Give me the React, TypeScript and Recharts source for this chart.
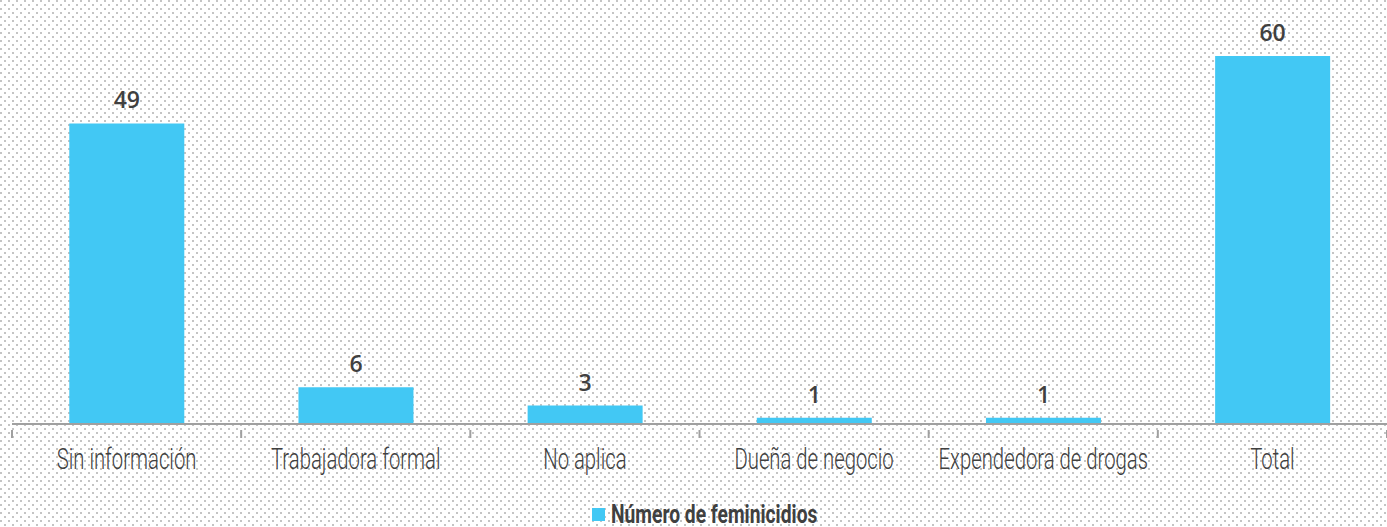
import { Bar, BarChart, LabelList, Legend, XAxis, YAxis } from "recharts";

const categories = [
  "Sin información",
  "Trabajadora formal",
  "No aplica",
  "Dueña de negocio",
  "Expendedora de drogas",
  "Total",
];
const feminicidios = [49, 6, 3, 1, 1, 60];
const seriesName = "Número de feminicidios";

const data = categories.map((label, i) => ({ label, value: feminicidios[i] }));

const BLUE = "#42c8f4";
const TEXT = "#404040";
const AXIS = "#a0a0a0";

const dots =
  "url(\"data:image/svg+xml;utf8,<svg xmlns='http://www.w3.org/2000/svg' width='8' height='8'><rect x='0' y='0' width='2' height='2' fill='%23c4c4c4'/><rect x='4' y='4' width='2' height='2' fill='%23c4c4c4'/></svg>\")";

const CategoryTick = (props: any) => {
  const { x, y, payload, index } = props;
  const half = payload?.offset ?? 114.6;
  const last = index === categories.length - 1;
  return (
    <g>
      <line x1={x - half} x2={x - half} y1={y} y2={y + 8} stroke={AXIS} strokeWidth={2} />
      {last && <line x1={x + half} x2={x + half} y1={y} y2={y + 8} stroke={AXIS} strokeWidth={2} />}
      <text
        x={0}
        y={0}
        transform={`translate(${x},${y + 39}) scale(0.7,1)`}
        textAnchor="middle"
        fill={TEXT}
        fontSize={29}
        fontFamily="Roboto, sans-serif"
        fontWeight={300}
      >
        {payload.value}
      </text>
    </g>
  );
};

const LegendContent = () => (
  <div
    style={{
      display: "flex",
      justifyContent: "center",
      alignItems: "center",
      height: 30,
      marginTop: 5,
      paddingLeft: 12,
    }}
  >
    <span style={{ width: 13, height: 13, background: BLUE, marginRight: 6, display: "inline-block" }} />
    <span
      style={{
        display: "inline-block",
        fontFamily: "Roboto, sans-serif",
        fontWeight: 700,
        fontSize: 25,
        color: TEXT,
        transform: "scaleX(0.77)",
        transformOrigin: "left center",
        width: 208,
        whiteSpace: "nowrap",
      }}
    >
      {seriesName}
    </span>
  </div>
);

const App = () => {
  return (
    <div
      style={{
        position: "absolute",
        left: 0,
        top: 0,
        width: 1387,
        height: 527,
        backgroundColor: "#ffffff",
        backgroundImage: dots,
      }}
    >
      <BarChart
        width={1387}
        height={527}
        data={data}
        margin={{ top: 56, right: 0, bottom: 3, left: 12 }}
        barCategoryGap="25%"
      >
        <XAxis
          dataKey="label"
          axisLine={{ stroke: AXIS, strokeWidth: 2 }}
          tickLine={false}
          tickMargin={0}
          height={70}
          interval={0}
          tick={<CategoryTick />}
        />
        <YAxis hide domain={[0, 60]} />
        <Legend verticalAlign="bottom" height={30} content={<LegendContent />} />
        <Bar dataKey="value" name={seriesName} fill={BLUE} isAnimationActive={false}>
          <LabelList
            dataKey="value"
            position="top"
            offset={15}
            fill={TEXT}
            fontSize={23}
            fontWeight={600}
            fontFamily="'Open Sans', sans-serif"
          />
        </Bar>
      </BarChart>
    </div>
  );
};

export default App;
